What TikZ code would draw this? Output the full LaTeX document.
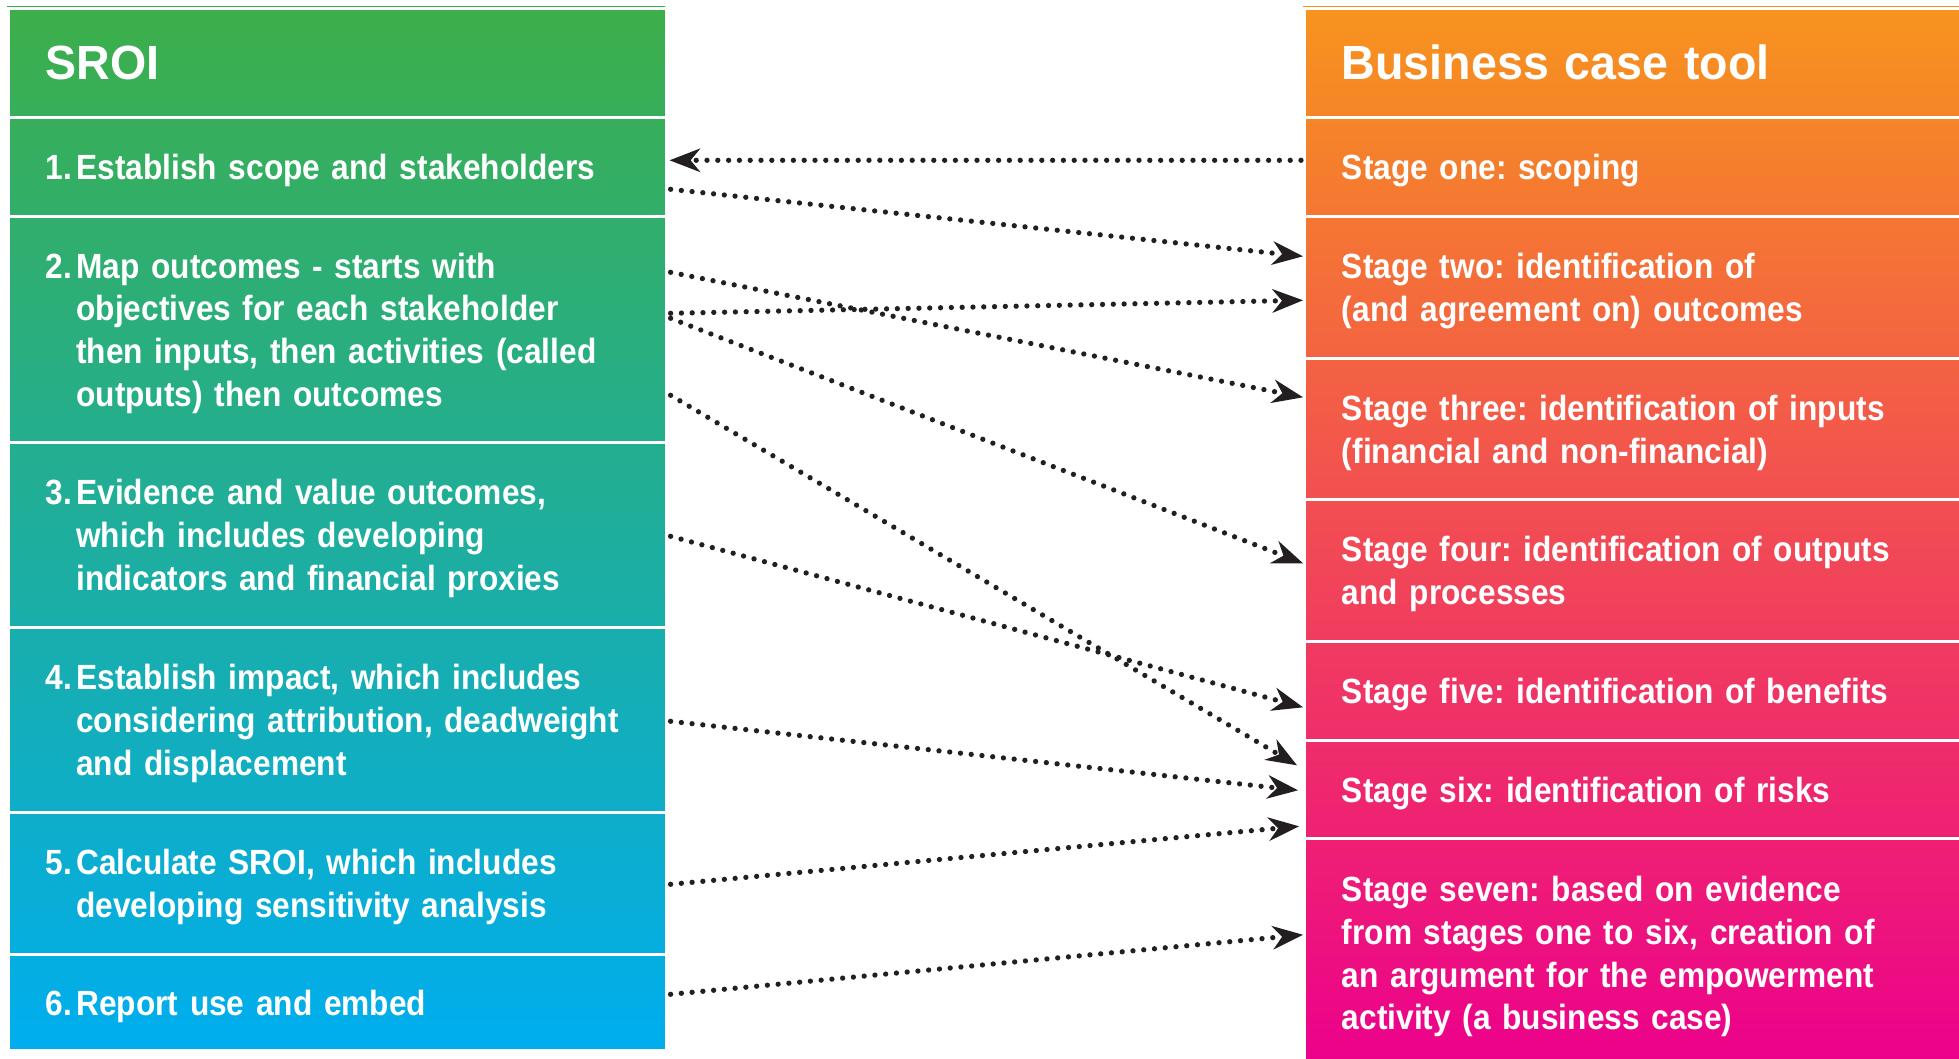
\documentclass[tikz,border=0pt]{standalone}
\usepackage{fontspec}
\setmainfont{Liberation Sans}[FakeStretch=0.905]
\newfontfamily\headfont{Liberation Sans}[FakeStretch=0.97]
\usetikzlibrary{arrows.meta}
\definecolor{gtop}{RGB}{61,174,73}
\definecolor{gmid}{RGB}{5,168,140}
\definecolor{gbot}{RGB}{0,174,239}
\definecolor{otop}{RGB}{247,148,29}
\definecolor{omid}{RGB}{240,104,104}
\definecolor{obot}{RGB}{236,0,140}
\definecolor{ink}{RGB}{35,31,32}
\newcommand{\nb}[1]{\makebox[30.4pt][l]{#1}}
\newcommand{\ind}{\hspace*{30.4pt}}
\frenchspacing
\begin{document}
\begin{tikzpicture}[x=1pt,y=-1pt,
  cell/.style={draw=white, line width=2.6pt, anchor=north west, inner xsep=37.6pt, inner ysep=0pt,
    align=left, text=white, font=\bfseries\fontsize{35}{42.7}\selectfont,
    execute at begin node={\rule{0pt}{33pt}}},
  lcell/.style={cell, minimum width=658pt, text width=582.8pt},
  rcell/.style={cell, minimum width=660pt, text width=584.8pt},
  head/.style={font=\headfont\bfseries\fontsize{48}{55}\selectfont},
  conn/.style={ink, line width=5.3pt, line cap=round, dash pattern=on 0pt off 10.8pt,
    -{Stealth[length=31pt,width=24pt,inset=10pt,line width=0pt]}}]
\useasboundingbox (0,0) rectangle (1959,1059);
\fill[white] (0,0) rectangle (1959,1059);
% column backgrounds
\shade[top color=gtop, middle color=gmid, bottom color=gbot] (7,7) rectangle (665,1049);
\shade[top color=otop, middle color=omid, bottom color=obot] (1303,7) rectangle (1963,1066);
% left column
\node[lcell, head, minimum height=109pt] (LH) at (7,7) {SROI};
\node[lcell, minimum height=99pt] (L1) at (7,116) {\nb{1.}Establish scope and stakeholders};
\node[lcell, minimum height=226pt] (L2) at (7,215) {\nb{2.}Map outcomes - starts with\\\ind objectives for each stakeholder\\\ind then inputs, then activities (called\\\ind outputs) then outcomes};
\node[lcell, minimum height=185pt] (L3) at (7,441) {\nb{3.}Evidence and value outcomes,\\\ind which includes developing\\\ind indicators and financial proxies};
\node[lcell, minimum height=185pt] (L4) at (7,626) {\nb{4.}Establish impact, which includes\\\ind considering attribution, deadweight\\\ind and displacement};
\node[lcell, minimum height=142pt] (L5) at (7,811) {\nb{5.}Calculate SROI, which includes\\\ind developing sensitivity analysis};
\node[lcell, minimum height=96pt] (L6) at (7,953) {\nb{6.}Report use and embed};
% right column
\node[rcell, head, minimum height=109pt] (RH) at (1303,7) {Business case tool};
\node[rcell, minimum height=99pt] (S1) at (1303,116) {Stage one: scoping};
\node[rcell, minimum height=142pt] (S2) at (1303,215) {Stage two: identification of\\(and agreement on) outcomes};
\node[rcell, minimum height=141pt] (S3) at (1303,357) {Stage three: identification of inputs\\(financial and non-financial)};
\node[rcell, minimum height=142pt] (S4) at (1303,498) {Stage four: identification of outputs\\and processes};
\node[rcell, minimum height=99pt] (S5) at (1303,640) {Stage five: identification of benefits};
\node[rcell, minimum height=98pt] (S6) at (1303,739) {Stage six: identification of risks};
\node[rcell, minimum height=229pt] (S7) at (1303,837) {Stage seven: based on evidence\\from stages one to six, creation of\\an argument for the empowerment\\activity (a business case)};
% connectors
\draw[conn] ([xshift=-2pt,yshift=6.5pt]S1.west) -- ([xshift=2pt,yshift=6.5pt]L1.east);
\draw[conn] ([xshift=3pt,yshift=-22.5pt]L1.east) -- ([yshift=31pt]S2.west);
\draw[conn] ([xshift=3pt,yshift=57pt]L2.east) -- ([yshift=31.5pt]S3.west);
\draw[conn] ([xshift=3pt,yshift=16pt]L2.east) -- ([yshift=-13pt]S2.west);
\draw[conn] ([xshift=3pt,yshift=11pt]L2.east) -- ([yshift=7pt]S4.west);
\draw[conn] ([xshift=3pt,yshift=-66pt]L2.east) -- ([xshift=-6pt,yshift=24pt]S6.west);
\draw[conn] ([xshift=3pt,yshift=-1.5pt]L3.east) -- ([yshift=-16.5pt]S5.west);
\draw[conn] ([xshift=3pt,yshift=-1.5pt]L4.east) -- ([xshift=-5pt,yshift=-1pt]S6.west);
\draw[conn] ([xshift=3pt,yshift=-1pt]L5.east) -- ([xshift=-4pt,yshift=-37pt]S6.west);
\draw[conn] ([xshift=3pt,yshift=8pt]L6.east) -- ([yshift=18pt]S7.west);
\end{tikzpicture}
\end{document}
